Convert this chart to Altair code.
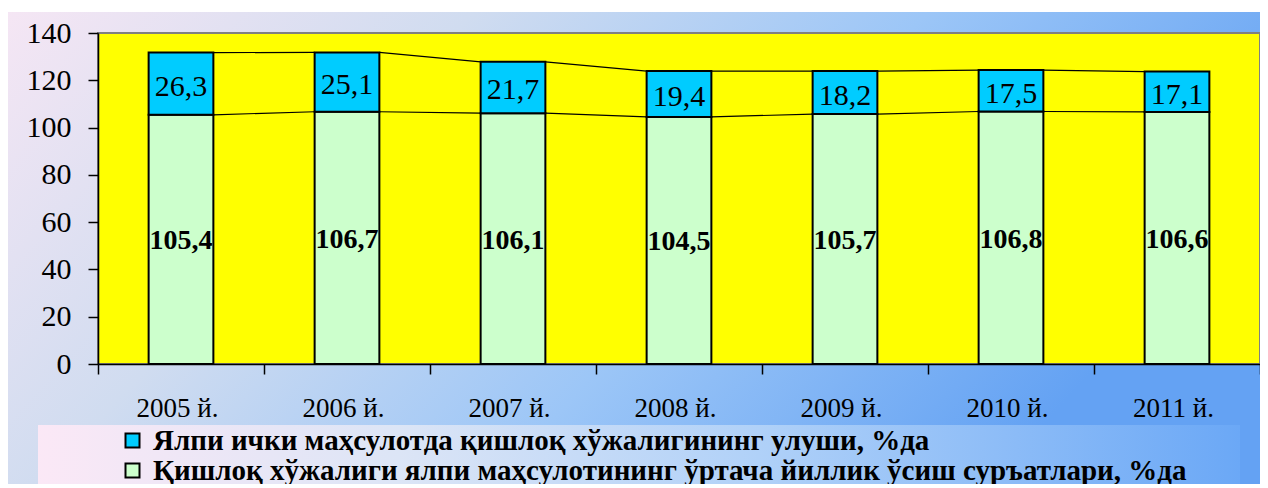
import json
import altair as alt
import pandas as pd

# ---- data ----
years = ["2005 й.", "2006 й.", "2007 й.", "2008 й.", "2009 й.", "2010 й.", "2011 й."]
growth = [105.4, 106.7, 106.1, 104.5, 105.7, 106.8, 106.6]
share = [26.3, 25.1, 21.7, 19.4, 18.2, 17.5, 17.1]
series_names = [
    "Ялпи ички маҳсулотда қишлоқ хўжалигининг улуши, %да",
    "Қишлоқ хўжалиги ялпи маҳсулотининг ўртача йиллик ўсиш суръатлари, %да",
]
series_colors = ["#00ccff", "#ccffcc"]
y_ticks = [0, 20, 40, 60, 80, 100, 120, 140]

# ---- layout ----
W, H = 1162, 331
HALF = 0.195
FONT = "Liberation Serif"


def fmt(v):
    return f"{v:.1f}".replace(".", ",")


rows = []
for i, (g, s) in enumerate(zip(growth, share)):
    rows.append(dict(idx=i, series=series_names[1], y0=0.0, y1=g, label=fmt(g)))
    rows.append(dict(idx=i, series=series_names[0], y0=g, y1=g + s, label=fmt(s)))
bars = pd.DataFrame(rows)

lrows = []
for i in range(len(years) - 1):
    lrows.append(dict(idx=i, ya=growth[i], yb=growth[i + 1]))
    lrows.append(dict(idx=i, ya=growth[i] + share[i], yb=growth[i + 1] + share[i + 1]))
lines = pd.DataFrame(lrows)

one = pd.DataFrame({"a": [0]})

xs = alt.Scale(domain=[-0.5, len(years) - 0.5], nice=False, zero=False)
ys = alt.Scale(domain=[0, 140], nice=False)

label_expr = json.dumps(years, ensure_ascii=False) + "[round(datum.value + 0.5)] || ''"

x_axis = alt.Axis(
    values=[i - 0.5 for i in range(len(years) + 1)],
    labelExpr=label_expr,
    labelOffset=W / len(years) / 2 - 4,
    labelOverlap=False,
    labelBound=False,
    labelFlush=False,
    labelPadding=21,
    labelFontSize=27,
    labelFont=FONT,
    title=None,
    zindex=2,
)
y_axis = alt.Axis(values=y_ticks, labelPadding=17, labelFontSize=30, labelFont=FONT, title=None, zindex=2)

bg = alt.Chart(one).mark_rect(
    fill=alt.Gradient(
        gradient="linear",
        x1=0, y1=0, x2=1, y2=0.35,
        stops=[
            alt.GradientStop(color="#f5e6f4", offset=0),
            alt.GradientStop(color="#d0dcf0", offset=0.33),
            alt.GradientStop(color="#9cc6f7", offset=0.65),
            alt.GradientStop(color="#64a2f3", offset=1),
        ],
    )
).encode(x=alt.value(-91), x2=alt.value(1170), y=alt.value(-21), y2=alt.value(460))

legend_box = alt.Chart(one).mark_rect(
    fill=alt.Gradient(
        gradient="linear",
        x1=0, y1=0, x2=1, y2=0,
        stops=[
            alt.GradientStop(color="#fbe8f6", offset=0),
            alt.GradientStop(color="#dce5f6", offset=0.3),
            alt.GradientStop(color="#b0d1f8", offset=0.6),
            alt.GradientStop(color="#6ba8f6", offset=1),
        ],
    )
).encode(x=alt.value(-60), x2=alt.value(1142), y=alt.value(392), y2=alt.value(452))

plot_bg = alt.Chart(one).mark_rect(fill="#ffff00", stroke="#808080", strokeWidth=2).encode(
    x=alt.value(0), x2=alt.value(W), y=alt.value(0), y2=alt.value(H)
)

series_lines = alt.Chart(lines).transform_calculate(
    xa=f"datum.idx + {HALF}", xb=f"datum.idx + 1 - {HALF}"
).mark_rule(color="black", strokeWidth=1.2).encode(
    x=alt.X("xa:Q", scale=xs, axis=x_axis),
    x2="xb:Q",
    y=alt.Y("ya:Q", scale=ys, axis=y_axis),
    y2="yb:Q",
)

bar_layer = alt.Chart(bars).transform_calculate(
    xl=f"datum.idx - {HALF}", xr=f"datum.idx + {HALF}"
).mark_rect(stroke="black", strokeWidth=2).encode(
    x=alt.X("xl:Q", scale=xs, axis=x_axis),
    x2="xr:Q",
    y=alt.Y("y0:Q", scale=ys, axis=y_axis),
    y2="y1:Q",
    color=alt.Color(
        "series:N",
        scale=alt.Scale(domain=series_names, range=series_colors),
        legend=alt.Legend(
            orient="none",
            legendX=20,
            legendY=393,
            direction="vertical",
            title=None,
            symbolType="square",
            symbolSize=196,
            symbolStrokeColor="black",
            symbolStrokeWidth=2,
            labelFont=FONT,
            labelFontSize=29,
            labelFontWeight="bold",
            labelColor="black",
            labelLimit=1200,
            labelOffset=6,
            rowPadding=0,
            padding=0,
        ),
    ),
)

text_base = alt.Chart(bars).transform_calculate(ym="(datum.y0 + datum.y1) / 2")

top_text = text_base.transform_filter(
    alt.datum.series == series_names[0]
).mark_text(font=FONT, fontSize=30, color="black", baseline="middle", dy=3).encode(
    x=alt.X("idx:Q", scale=xs),
    y=alt.Y("ym:Q", scale=ys),
    text="label:N",
)

bottom_text = text_base.transform_filter(
    alt.datum.series == series_names[1]
).mark_text(font=FONT, fontSize=28, fontWeight="bold", color="black", baseline="middle", dy=2).encode(
    x=alt.X("idx:Q", scale=xs),
    y=alt.Y("ym:Q", scale=ys),
    text="label:N",
)

chart = (
    alt.layer(bg, legend_box, plot_bg, series_lines, bar_layer, top_text, bottom_text)
    .properties(
        width=W,
        height=H,
        autosize=alt.AutoSizeParams(type="none"),
        padding={"left": 90, "top": 25, "right": 0, "bottom": 120},
        background="white",
    )
    .configure(font=FONT)
    .configure_view(stroke="transparent")
    .configure_axis(
        grid=False,
        domainColor="black",
        domainWidth=1.5,
        tickColor="black",
        tickWidth=1.5,
        tickSize=10,
        labelFont=FONT,
        labelColor="black",
    )
    .configure_legend(labelFont=FONT)
    .configure_text(font=FONT)
)

chart.save("out.html", embed_options={"renderer": "svg", "actions": False})
